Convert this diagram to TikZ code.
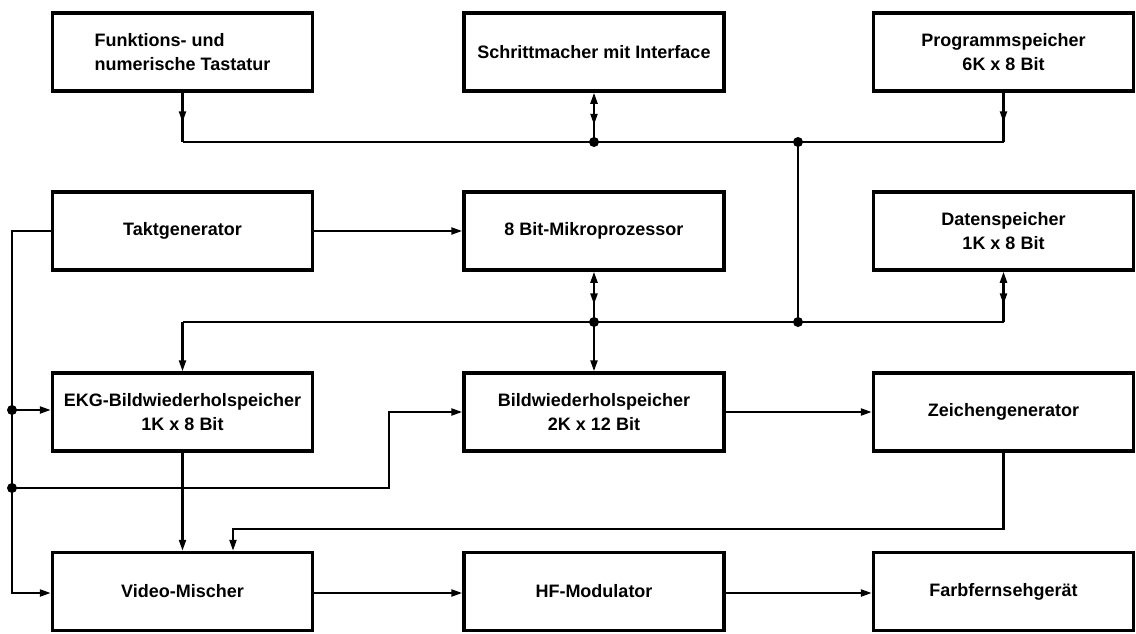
\documentclass[tikz,border=0pt]{standalone}
\usepackage{fontspec}
\setmainfont{Liberation Sans}
\usetikzlibrary{arrows.meta,decorations.markings,calc}
\begin{document}
\begin{tikzpicture}[x=1pt,y=-1pt,
  box/.style={draw,line width=3.5pt,minimum width=260pt,minimum height=78pt,inner sep=0pt,
    font=\fontsize{18}{24}\selectfont\bfseries,align=center},
  wire/.style={line width=2.2pt,line join=miter},
  tip/.style={-{Triangle[length=11pt,width=7pt]}},
  rtip/.style={{Triangle[length=11pt,width=7pt]}-},
  midarrow/.style={postaction={decorate},decoration={markings,
    mark=at position #1 with {\arrow{Triangle[length=11pt,width=7pt]}}}},
  dot/.style={fill,circle,inner sep=0pt,minimum size=10pt}
]
\useasboundingbox (0,0) rectangle (1136,633);

% boxes
\node[box,align=left] (kb) at (182.5,52) {Funktions- und\\numerische Tastatur};
\node[box] (sm) at (594,52) {Schrittmacher mit Interface};
\node[box] (ps) at (1003.5,52) {Programmspeicher\\6K x 8 Bit};
\node[box] (tg) at (182.5,231) {Taktgenerator};
\node[box] (mp) at (594,231) {8 Bit-Mikroprozessor};
\node[box] (ds) at (1003.5,231) {Datenspeicher\\1K x 8 Bit};
\node[box] (ekg) at (182.5,412) {EKG-Bildwiederholspeicher\\1K x 8 Bit};
\node[box] (bw) at (594,412) {Bildwiederholspeicher\\2K x 12 Bit};
\node[box] (zg) at (1003.5,412) {Zeichengenerator};
\node[box] (vm) at (182.5,591.5) {Video-Mischer};
\node[box] (hf) at (594,591.5) {HF-Modulator};
\node[box] (fs) at (1003.5,591.5) {Farbfernsehgerät};

% bus coordinates
\coordinate (b1) at (182.5,142);
\coordinate (b2) at (1003.5,142);
\node[dot] (d1) at (594,142) {};
\node[dot] (d2) at (798,142) {};
\coordinate (c1) at (182.5,322);
\coordinate (c2) at (1003.5,322);
\node[dot] (d3) at (594,322) {};
\node[dot] (d4) at (798,322) {};
\coordinate (l0) at (12,231);
\node[dot] (l1) at (12,410) {};
\node[dot] (l2) at (12,488) {};
\coordinate (l3) at (12,593);
\coordinate (m1) at (389,488);
\coordinate (m2) at (389,412);
\coordinate (z1) at (1003.5,529);
\coordinate (z2) at (233,529);

% upper bus
\draw[wire] (b1) -- (b2);
\draw[wire,midarrow=0.6] (kb.south) -- (b1);
\draw[wire,midarrow=0.6] (ps.south) -- (b2);
\draw[wire,rtip,midarrow=0.65] (sm.south) -- (d1.center);
\draw[wire] (d2.center) -- (d4.center);

% lower bus
\draw[wire] (c1) -- (c2);
\draw[wire,tip] (c1) -- (ekg.north);
\draw[wire,rtip,midarrow=0.65] (mp.south) -- (d3.center);
\draw[wire,tip] (d3.center) -- (bw.north);
\draw[wire,rtip,midarrow=0.65] (ds.south) -- (c2);

% clock lines
\draw[wire,tip] (tg.east) -- (mp.west);
\draw[wire,tip] (tg.west) -- (l0) -- (l3) -- (vm.west |- l3);
\draw[wire,tip] (l1.center) -- (ekg.west |- l1);
\draw[wire,tip] (l2.center) -- (m1) -- (m2) -- (bw.west);

% video path
\draw[wire,tip] (ekg.south) -- (vm.north);
\draw[wire,tip] (bw.east) -- (zg.west);
\draw[wire,tip] (zg.south) -- (z1) -- (z2) -- (z2 |- vm.north);
\draw[wire,tip] (vm.east |- l3) -- (hf.west |- l3);
\draw[wire,tip] (hf.east |- l3) -- (fs.west |- l3);
\end{tikzpicture}
\end{document}
